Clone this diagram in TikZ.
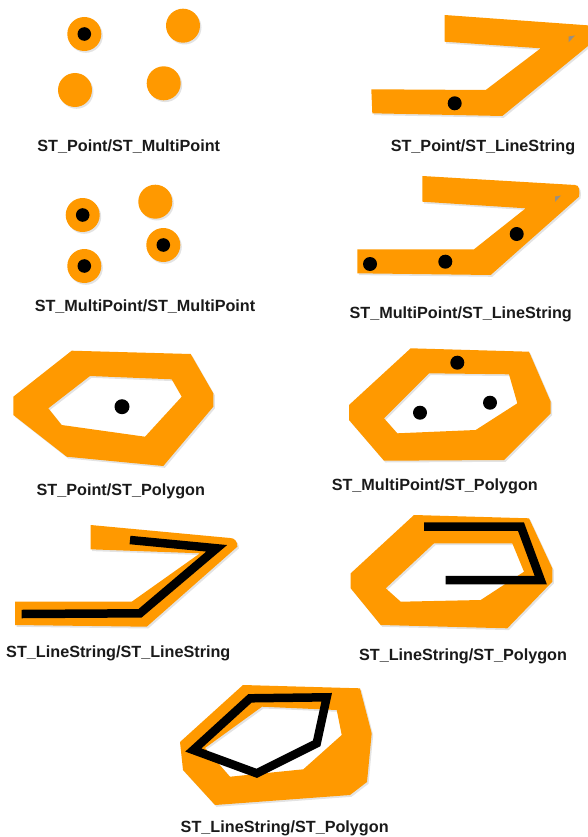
\documentclass[tikz,border=0pt]{standalone}
\usepackage{fontspec}
\setmainfont{Liberation Sans}
\usetikzlibrary{shadows}
\definecolor{corange}{HTML}{FF9900}
\definecolor{cink}{HTML}{1A1A1A}
\definecolor{cgrey}{HTML}{9A8F80}

\begin{document}
\begin{tikzpicture}[
  x=1pt, y=-1pt,
  lbl/.style={font=\bfseries\fontsize{16.2}{19}\selectfont, text=cink, anchor=base, inner sep=0pt},
  geom/.style={fill=corange, even odd rule, line join=round,
    drop shadow={opacity=0.22, shadow xshift=1.5pt, shadow yshift=-1.8pt, even odd rule}},
  pt/.style={fill=black},
  ln/.style={draw=black, line width=8.5pt, line join=miter, line cap=butt},
  nick/.style={fill=cgrey},
]
\useasboundingbox (0,0) rectangle (588,837);
\clip (0,0) rectangle (588,837);

% point / multipoint
\fill[geom] (84.3,34) circle (17pt) (183,25.7) circle (17pt)
  (75,90) circle (17pt) (163.7,83.3) circle (17pt);
\fill[pt] (84.3,34) circle (6.8pt);
\node[lbl] (ptmpt) at (128.7,151.5) {ST\_Point/ST\_MultiPoint};

% point / linestring
\fill[geom] (444.7,15) -- (597,26) -- (599,37) -- (502.3,116) -- (372.3,113.3)
  -- (371.3,89.3) -- (485.7,90) -- (540.7,48.3) -- (444.7,41.7) -- cycle;
\fill[nick] (568.5,36.5) -- (575,35.5) -- (568.5,42.5) -- cycle;
\fill[pt] (454.7,103.3) circle (7pt);
\node[lbl] (ptls) at (483,151.5) {ST\_Point/ST\_LineString};

% multipoint / multipoint
\fill[geom] (82.7,215) circle (17pt) (155.3,201.7) circle (17pt)
  (163.3,245) circle (17pt) (84.3,266) circle (17pt);
\fill[pt] (82.7,215) circle (6.8pt) (163.3,245) circle (6.8pt) (84.3,266) circle (6.8pt);
\node[lbl] (mptmpt) at (145,311.7) {ST\_MultiPoint/ST\_MultiPoint};

% multipoint / linestring
\fill[geom] (422.3,176) -- (575,185) to[out=5,in=80] (579,196.7) -- (490.7,275)
  -- (357.3,273.3) -- (357.3,249.3) -- (474,249.3) -- (525.7,208.3) -- (422.3,201.7) -- cycle;
\fill[nick] (555,196.5) -- (561,195.5) -- (555,202) -- cycle;
\fill[pt] (370,264) circle (7pt) (445.3,261.7) circle (7pt) (516.7,234) circle (7pt);
\node[lbl] (mptls) at (460.7,318.3) {ST\_MultiPoint/ST\_LineString};

% point / polygon
\fill[geom] (71.7,350.7) -- (190.7,354) -- (213.3,393.3) -- (213.3,406.7) -- (163.3,466)
  -- (66.7,456.7) -- (13.3,415) -- (13.3,396.7) -- cycle
  (90,376) -- (171.7,379.3) -- (181.7,396.7) -- (145,436.7) -- (61.7,425) -- (48.3,408.3) -- cycle;
\fill[pt] (122,406.7) circle (7.5pt);
\node[lbl] (ptpoly) at (120.8,495.3) {ST\_Point/ST\_Polygon};

% multipoint / polygon
\fill[geom] (410.7,348.3) -- (529,351.7) -- (550.7,401.7) -- (550.7,413.3) -- (504,460)
  -- (384,460.7) -- (349,420) -- (349,405) -- cycle
  (429,373.3) -- (509,374.3) -- (517.3,403.3) -- (475.7,430) -- (397.3,433.3) -- (384,418.3) -- cycle;
\fill[pt] (457.3,362.7) circle (7pt) (420,412.7) circle (7pt) (490,402.7) circle (7pt);
\node[lbl] (mptpoly) at (434.8,490.7) {ST\_MultiPoint/ST\_Polygon};

% linestring / linestring
\fill[geom] (90.7,525) -- (230,538) to[out=5,in=80] (237.3,546.7) -- (146.7,626.7)
  -- (15,625) -- (15,601.7) -- (131.7,601.7) -- (200,553.3) -- (90.7,549.3) -- cycle;
\draw[ln] (21.7,614) -- (140,613.3) -- (216.7,548.3) -- (130,540);
\node[lbl] (lsls) at (118.3,657.3) {ST\_LineString/ST\_LineString};

% linestring / polygon
\fill[geom] (414,515) -- (529,518.3) -- (552.3,568.3) -- (552.3,581.7) -- (507.3,628.3)
  -- (380.7,625) -- (350.7,588.3) -- (350.7,573.3) -- cycle
  (434,543.3) -- (512.3,543.3) -- (524,571.7) -- (480.7,600) -- (400.7,601.7) -- (385.7,588.3) -- cycle;
\draw[ln] (424,526.7) -- (521,526.7) -- (540.7,580) -- (445.7,580);
\node[lbl] (lspoly) at (463,660.7) {ST\_LineString/ST\_Polygon};

% closed linestring / polygon
\fill[geom] (243,685) -- (360,688.3) -- (371.7,733.3) -- (367,782) -- (350,795)
  -- (215,805) -- (183,770) -- (180,742) -- cycle
  (262,706.7) -- (336.7,710) -- (341.7,735) -- (303.3,769.3) -- (230,776.7) -- (205,748) -- cycle;
\draw[ln] (250,698.3) -- (326.7,697.3) -- (316.7,743.3) -- (256.7,773.3) -- (193.3,750) -- cycle;
\node[lbl] (lspoly2) at (284.7,832.7) {ST\_LineString/ST\_Polygon};
\end{tikzpicture}
\end{document}
